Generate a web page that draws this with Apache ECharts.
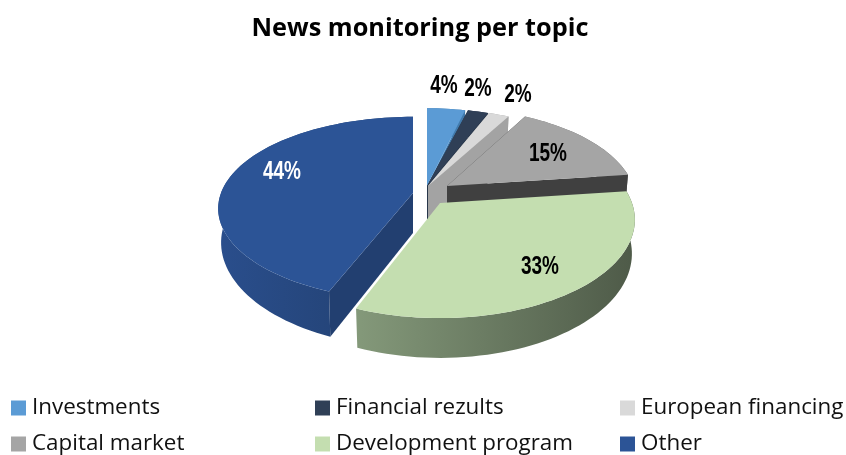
<!DOCTYPE html>
<html>
<head>
<meta charset="utf-8">
<style>
  html, body { margin: 0; padding: 0; background: #fff; }
  #chart { width: 846px; height: 455px; }
</style>
<script src="https://cdn.jsdelivr.net/npm/echarts@6/dist/echarts.min.js"></script>
</head>
<body>
<div id="chart"></div>
<script>
const categories = ["Investments", "Financial rezults", "European financing", "Capital market", "Development program", "Other"];
const values = [4, 2, 2, 15, 33, 44];

const topColors = ["#5b9bd5", "#2f3f56", "#d9d9d9", "#a5a5a5", "#c4deb0", "#2c5496"];
// null = the cut side of that slice is never seen
const cutColors = ["#427bad", "#27364a", "#a3a3a3", "#404040", null, "#223f70"];
const wallLeft = ["#427bad", "#27364a", "#a3a3a3", "#7c7c7c", "#84997a", "#2a4e8c"];
const wallRight = ["#427bad", "#27364a", "#a3a3a3", "#555555", "#4e5a48", "#213f6e"];
const labelColors = ["#000", "#000", "#000", "#000", "#000", "#fff"];

// exploded slice apex, label centre
const apexes = [[427, 186], [427, 186], [428, 186], [447, 186], [440, 203], [413, 193]];
const labelSpots = [[444, 86], [478, 89], [518, 95], [548, 154], [540, 267], [282, 172]];
// per slice tweaks, the original is not a clean projection
const xScales = [0.93, 1, 1, 0.97, 1, 1];
const yScales = [1, 1, 1, 1, 1.05, 0.98];
const rimDepths = [33, 33, 33, 33, 33, 32];
const rimPowers = [1, 1, 1, 1, 1, 2];

// fake perspective for the tilted disc
const RX = 192, RY = 91, PERSP = 0.17, APEX_DEPTH = 40, RIM_SHRINK = 0.985;

function project(idx, theta, lower) {
  const apex = apexes[idx];
  const c = Math.cos(theta), sn = Math.sin(theta);
  const s = 1 / (1 + PERSP * c);
  return [
    apex[0] + RX * xScales[idx] * sn * s * (lower ? RIM_SHRINK : 1),
    apex[1] - RY * yScales[idx] * c * s + (lower ? rimDepths[idx] * Math.pow(s, rimPowers[idx]) : 0),
  ];
}

function arc(idx, a0, a1, lower) {
  const steps = Math.max(2, Math.ceil((a1 - a0) / (Math.PI / 90)));
  const pts = [];
  for (let i = 0; i <= steps; i++) {
    pts.push(project(idx, a0 + (a1 - a0) * i / steps, lower));
  }
  return pts;
}

function cutFace(idx, theta) {
  const apex = apexes[idx];
  return {
    type: "polygon",
    shape: { points: [apex, project(idx, theta, false), project(idx, theta, true), [apex[0], apex[1] + APEX_DEPTH]] },
    style: { fill: cutColors[idx] },
  };
}

function buildSlice(idx, a0, a1) {
  const apex = apexes[idx];
  const topArc = arc(idx, a0, a1, false);
  const lowArc = arc(idx, a0, a1, true);
  const spot = labelSpots[idx];
  const cuts = cutColors[idx] ? [cutFace(idx, a0), cutFace(idx, a1)] : [];
  return {
    type: "group",
    children: [
      {
        type: "polygon",
        shape: { points: topArc.concat(lowArc.slice().reverse()) },
        style: {
          fill: new echarts.graphic.LinearGradient(0, 0, 1, 0, [
            { offset: 0, color: wallLeft[idx] },
            { offset: 1, color: wallRight[idx] },
          ]),
        },
      },
      ...cuts,
      {
        type: "polygon",
        shape: { points: [apex].concat(topArc) },
        style: { fill: topColors[idx] },
      },
      {
        type: "text",
        z2: 10,
        x: spot[0],
        y: spot[1],
        scaleX: 0.76,
        style: {
          text: values[idx] + "%",
          x: 0,
          y: 0,
          fill: labelColors[idx],
          font: "bold 25px 'Liberation Sans'",
          align: "center",
          verticalAlign: "middle",
        },
      },
    ],
  };
}

const total = values.reduce((a, b) => a + b, 0);
let running = 0;
const series = categories.map((name, i) => {
  const a0 = running / total * Math.PI * 2;
  running += values[i];
  const a1 = running / total * Math.PI * 2;
  return {
    type: "custom",
    name: name,
    coordinateSystem: "none",
    silent: true,
    animation: false,
    itemStyle: { color: topColors[i] },
    data: [values[i]],
    renderItem: () => buildSlice(i, a0, a1),
  };
});

const legendBase = {
  orient: "vertical",
  top: 397,
  height: 58,
  itemWidth: 15,
  itemHeight: 15,
  itemGap: 14,
  icon: "rect",
  selectedMode: false,
  padding: 0,
  textStyle: { fontFamily: "Open Sans", fontSize: 22.4, color: "#111", padding: [0, 0, 0, 1], lineHeight: 22 },
};

const chart = echarts.init(document.getElementById("chart"), undefined, { renderer: "canvas" });
chart.setOption({
  backgroundColor: "#fff",
  animation: false,
  title: {
    text: "News monitoring per topic",
    left: 415,
    top: 11,
    textAlign: "center",
    textStyle: { fontFamily: "Open Sans", fontWeight: "bold", fontSize: 25.3, color: "#000" },
  },
  legend: [
    Object.assign({}, legendBase, { left: 11, data: [categories[0], categories[3]] }),
    Object.assign({}, legendBase, { left: 315, data: [categories[1], categories[4]] }),
    Object.assign({}, legendBase, { left: 620, data: [categories[2], categories[5]] }),
  ],
  series: series,
});
</script>
</body>
</html>
